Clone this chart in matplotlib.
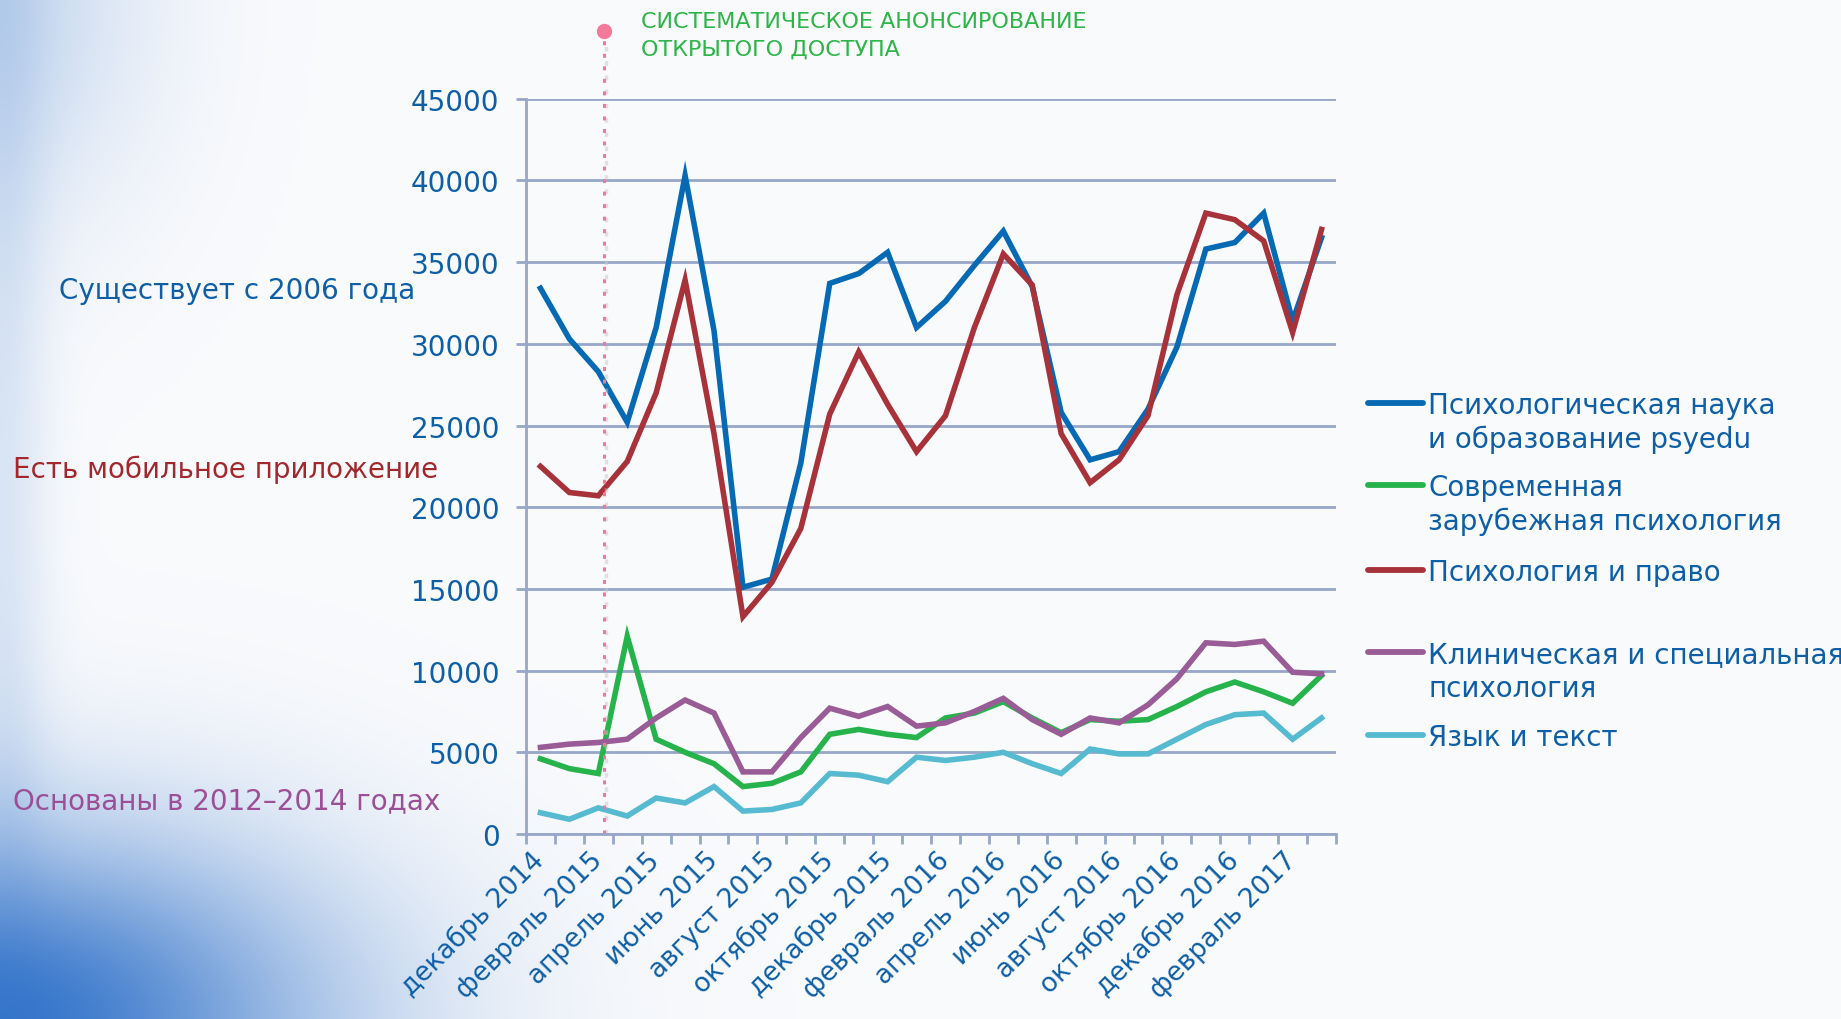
import numpy as np
import matplotlib.pyplot as plt

# месяцы: декабрь 2014 - март 2017
months = ["декабрь 2014", "январь 2015", "февраль 2015", "март 2015", "апрель 2015", "май 2015",
          "июнь 2015", "июль 2015", "август 2015", "сентябрь 2015", "октябрь 2015", "ноябрь 2015",
          "декабрь 2015", "январь 2016", "февраль 2016", "март 2016", "апрель 2016", "май 2016",
          "июнь 2016", "июль 2016", "август 2016", "сентябрь 2016", "октябрь 2016", "ноябрь 2016",
          "декабрь 2016", "январь 2017", "февраль 2017", "март 2017"]

psyedu = [33400, 30300, 28300, 25200, 31000, 40300, 30800, 15100, 15600, 22700,
          33700, 34300, 35600, 31000, 32600, 34800, 36900, 33500, 25800, 22900,
          23400, 26000, 29800, 35800, 36200, 38000, 31400, 36500]
zarub = [4600, 4000, 3700, 12100, 5800, 5000, 4300, 2900, 3100, 3800,
         6100, 6400, 6100, 5900, 7100, 7400, 8100, 7100, 6200, 7000,
         6900, 7000, 7800, 8700, 9300, 8700, 8000, 9700]
pravo = [22500, 20900, 20700, 22800, 27000, 33900, 24500, 13300, 15400, 18700,
         25700, 29500, 26300, 23400, 25600, 31000, 35500, 33600, 24500, 21500,
         22900, 25600, 33000, 38000, 37600, 36300, 30700, 37000]
klin = [5300, 5500, 5600, 5800, 7100, 8200, 7400, 3800, 3800, 5900,
        7700, 7200, 7800, 6600, 6800, 7500, 8300, 7000, 6100, 7100,
        6800, 7900, 9500, 11700, 11600, 11800, 9900, 9800]
yazyk = [1300, 900, 1600, 1100, 2200, 1900, 2900, 1400, 1500, 1900,
         3700, 3600, 3200, 4700, 4500, 4700, 5000, 4300, 3700, 5200,
         4900, 4900, 5800, 6700, 7300, 7400, 5800, 7100]

names = ["Психологическая наука\nи образование psyedu",
         "Современная\nзарубежная психология",
         "Психология и право",
         "Клиническая и специальная\nпсихология",
         "Язык и текст"]
series = [psyedu, zarub, pravo, klin, yazyk]
colors = ["#0569B3", "#27B34B", "#A8323A", "#9A5C96", "#56BAD0"]

text_blue = "#0E5FA6"
grid_c = "#97A6C9"

fig = plt.figure(figsize=(18.41, 10.20), dpi=100)

# фон: голубое свечение в левом нижнем углу и вдоль левого края
bg = fig.add_axes([0, 0, 1, 1], zorder=-10)
H, W = 255, 460
yy, xx = np.mgrid[0:H, 0:W] * 4.0
a1 = 0.92 * np.exp(-((xx / 330) ** 2 + ((1020 - yy) / 190) ** 2))
a2 = 0.22 * np.exp(-((xx / 150) ** 2 + (yy / 220) ** 2))
a3 = 0.15 * np.exp(-(xx / 45) ** 2)
a = 1 - (1 - a1) * (1 - a2) * (1 - a3)
base = np.array([0.978, 0.982, 0.99])
blue = np.array([0.15, 0.42, 0.78])
img = base[None, None, :] * (1 - a[..., None]) + blue[None, None, :] * a[..., None]
bg.imshow(img, extent=[0, 1841, 1020, 0], aspect='auto', interpolation='bilinear')
bg.axis('off')

ax = fig.add_axes([0.2857, 0.1814, 0.44, 0.7208])
ax.patch.set_alpha(0)

x = np.arange(len(months))
for vals, c in zip(series, colors):
    ax.plot(x, vals, color=c, lw=4.0, solid_joinstyle='miter')

ax.set_xlim(-0.5, 27.5)
ax.set_ylim(0, 45000)
ax.set_yticks(np.arange(0, 45001, 5000))
ax.grid(axis='y', color=grid_c, lw=2.0)
ax.set_axisbelow(True)
for s in ['top', 'right']:
    ax.spines[s].set_visible(False)
for s in ['left', 'bottom']:
    ax.spines[s].set_color(grid_c)
    ax.spines[s].set_linewidth(2.0)
ax.tick_params(axis='y', color=grid_c, labelcolor=text_blue, length=7, width=2.0,
               labelsize=20, pad=12)

ax.set_xticks(np.arange(-0.5, 28, 1))
ax.tick_params(axis='x', which='major', labelbottom=False, length=7, width=2.0, color=grid_c)
ax.set_xticks(x[::2], minor=True)
ax.set_xticklabels(months[::2], minor=True, rotation=45, ha='right', va='center',
                   rotation_mode='anchor', fontsize=19, color=text_blue)
ax.tick_params(axis='x', which='minor', length=0, pad=16)

# отметка начала анонсирования
tr = ax.get_xaxis_transform()
ax.plot([2.25, 2.25], [0, 1.092], transform=tr, color='#c8c8c8', lw=2.5, alpha=0.5,
        clip_on=False, ls=(0, (1.3, 2.8)))
ax.plot([2.2, 2.2], [0, 1.092], transform=tr, color='#F0789A', lw=2.2,
        ls=(0, (1.3, 2.8)), clip_on=False)
ax.plot([2.2], [1.0926], 'o', ms=10, color='#F37A98', transform=tr, clip_on=False)

fig.text(641 / 1841, 1 - 22 / 1020, "СИСТЕМАТИЧЕСКОЕ АНОНСИРОВАНИЕ", color="#2DB548",
         fontsize=16, va='center', ha='left')
fig.text(641 / 1841, 1 - 50 / 1020, "ОТКРЫТОГО ДОСТУПА", color="#2DB548",
         fontsize=16, va='center', ha='left')

# подписи слева
fig.text(59 / 1841, 1 - 291 / 1020, "Существует с 2006 года", color=text_blue,
         fontsize=20, va='center', ha='left')
fig.text(13 / 1841, 1 - 470 / 1020, "Есть мобильное приложение", color="#A3282E",
         fontsize=20, va='center', ha='left')
fig.text(13 / 1841, 1 - 801 / 1020, "Основаны в 2012–2014 годах", color="#9B4F96",
         fontsize=20, va='center', ha='left')

# легенда (линия на уровне первой строки подписи)
leg_y = [0.5864, 0.4746, 0.3597, 0.2479, 0.1344]
line_step = 0.0462
for nm, c, ly in zip(names, colors, leg_y):
    ax.plot([1.0395, 1.107], [ly, ly], transform=ax.transAxes, color=c, lw=4.2,
            solid_capstyle='round', clip_on=False)
    for i, part in enumerate(nm.split("\n")):
        ax.text(1.1136, ly - 0.0138 - i * line_step, part, transform=ax.transAxes,
                color=text_blue, fontsize=20, va='baseline', ha='left')

fig.savefig("out.png", dpi=100)
